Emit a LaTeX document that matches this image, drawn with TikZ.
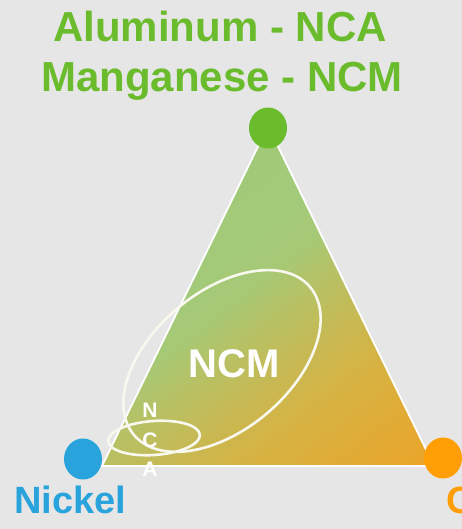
\documentclass[tikz,border=0pt]{standalone}
\usepackage{fontspec}
\setmainfont{Liberation Sans}
\usetikzlibrary{shapes.geometric}

\definecolor{bggray}{HTML}{E6E6E6}
\definecolor{algreen}{HTML}{6BBC2D}
\definecolor{niblue}{HTML}{29A3DC}
\definecolor{coorange}{HTML}{FF9F05}
\definecolor{ringwhite}{HTML}{F9F8EE}

% green at the top left, orange at the bottom right
\definecolor{tri1}{HTML}{EFA325}
\definecolor{tri2}{HTML}{EBA52A}
\definecolor{tri3}{HTML}{D4B445}
\definecolor{tri4}{HTML}{C9B852}
\definecolor{tri5}{HTML}{B5C266}
\definecolor{tri6}{HTML}{A6C976}
\definecolor{tri7}{HTML}{A3CA79}
\definecolor{tri8}{HTML}{9DC874}
\pgfdeclareverticalshading{cathode}{100bp}{color(0bp)=(tri1); color(16bp)=(tri2);
  color(34bp)=(tri3); color(39bp)=(tri4); color(47.5bp)=(tri5); color(53bp)=(tri6);
  color(58bp)=(tri7); color(82bp)=(tri8); color(100bp)=(tri8)}

\tikzset{
  vertex/.style={ellipse, minimum width=38pt, minimum height=41pt, inner sep=0pt},
  ring/.style={draw=ringwhite, line width=2.6pt},
  bigtext/.style={font=\fontsize{42}{42}\selectfont\bfseries, inner sep=0pt, anchor=base},
}

\begin{document}
\begin{tikzpicture}[x=1pt,y=1pt]
  \useasboundingbox (0,0) rectangle (462,529);
  \clip (0,0) rectangle (462,529);
  \fill[bggray] (0,0) rectangle (462,529);

  % corners of the triangle
  \coordinate (top) at (268,403);
  \coordinate (left) at (102,63);
  \coordinate (right) at (434,63);
  \shadedraw[draw=white, line width=1.8pt, shading=cathode, shading angle=38]
    (top) -- (left) -- (right) -- cycle;

  % composition regions
  \draw[ring, rotate around={40:(222,168)}] (222,168) ellipse (115 and 69);
  \draw[ring, rotate around={4:(154,91)}] (154,91) ellipse (46 and 17);
  \node[bigtext, white, font=\fontsize{40}{40}\selectfont\bfseries] (ncm) at (234,151) {NCM};
  \node[bigtext, white, font=\fontsize{21}{21}\selectfont\bfseries] (n) at (150,111) {N};
  \node[bigtext, white, font=\fontsize{21}{21}\selectfont\bfseries] (c) at (150,81) {C};
  \node[bigtext, white, font=\fontsize{21}{21}\selectfont\bfseries] (a) at (150,52) {A};

  % metals
  \node[vertex, fill=algreen] (al) at (268,401) {};
  \node[vertex, fill=niblue] (ni) at (83,70) {};
  \node[vertex, fill=coorange] (co) at (443,71) {};

  \node[bigtext, algreen] (title1) at (220,487) {Aluminum - NCA};
  \node[bigtext, algreen] (title2) at (222,437) {Manganese - NCM};
  \node[bigtext, niblue, font=\fontsize{38}{38}\selectfont\bfseries] (nickel) at (70,16) {Nickel};
  \node[bigtext, coorange, font=\fontsize{38}{38}\selectfont\bfseries, anchor=base west] (cobalt) at (446,16) {Cobalt};
\end{tikzpicture}
\end{document}
